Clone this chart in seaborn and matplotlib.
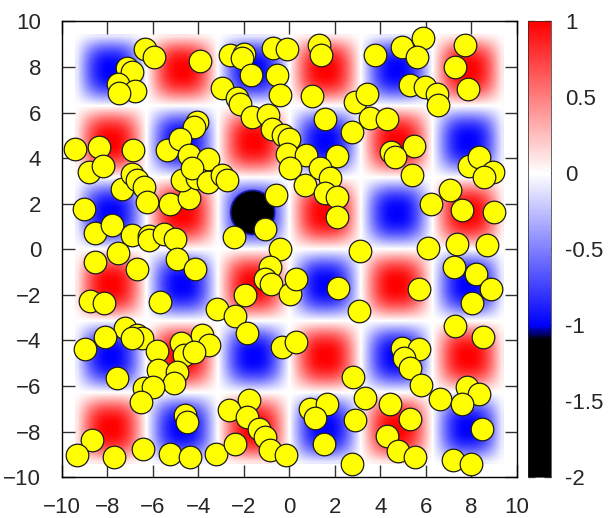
import matplotlib
matplotlib.use("Agg")
import matplotlib.pyplot as plt
import numpy as np
import seaborn as sns
from matplotlib.colors import LinearSegmentedColormap, Normalize
from matplotlib.cm import ScalarMappable
from matplotlib.patches import Circle

# sign of each coloured square, top row first (+1 red, -1 blue)
cell_signs = [[-1, 1, -1, 1, -1, 1],
              [1, -1, 1, -1, 1, -1],
              [-1, 1, -1, 1, -1, 1],
              [1, -1, 1, -1, 1, -1],
              [-1, 1, -1, 1, -1, 1],
              [1, -1, 1, -1, 1, -1]]
# outer edge of the coloured squares
cell_edge = 9.42
# intensity across one square
cell_profile = [0.10, 0.30, 0.50, 0.68, 0.82, 0.92, 0.98, 1.0,
                1.0, 0.98, 0.92, 0.82, 0.68, 0.50, 0.30, 0.10]

# black hole in the field
blob_x, blob_y, blob_r = -1.62, 1.62, 0.93

# yellow circles
circle_x = [-6.34, -5.94, -3.95, -7.14, -6.92, -7.55, -6.81, -7.51, -9.41, -8.39, -6.88, -5.38, -4.07, -4.21, -4.80, -4.43, -3.60,
            -8.83, -8.20, -7.36, -6.92, -6.70, -6.41, -6.26, -5.24, -4.43, -4.73, -4.07, -4.29, -3.58,
            -9.05, -8.53, -7.80, -6.92, -6.16, -6.16, -5.53, -5.05, -7.54, -8.53, -6.70, -4.95, -4.14, -8.75, -8.17, -5.71, -3.20,
            -2.60, -2.01, -2.09, -0.73, -0.11, 1.28, 1.40, -1.68, -0.55, -2.95, -0.40, 0.99, -2.30, -2.18, -1.65, -0.95, -0.77, -0.29, -0.04, -0.11, 0.73, 2.09, 1.57, 2.86, 2.75,
            3.74, 4.95, 5.87, 5.60, 7.70, 7.26, 7.85, 5.31, 5.97, 6.48, 6.53, 3.41, 3.55, 4.29, 4.48, 5.46, 4.65, 5.39, 7.88, 8.32, 8.95,
            -2.97, -2.75, 0.02, 0.70, 1.36, 1.80, 1.58, 2.09, 2.09, -0.58, -1.06, -2.45, -0.40, -0.84, -1.06, -0.80, 0.04, 0.30, 2.13, -1.94, -2.38, 3.11, 3.04,
            7.07, 6.23, 7.58, 8.97, 8.53, 6.09, 7.36, 8.68, 7.22, 8.20, 8.87, 8.02, 5.68, 7.26,
            -7.22, -6.70, -6.48, -6.92, -8.12, -9.00, -5.82, -4.75, -3.85, -3.55, -4.65, -4.21, -5.78, -4.95, -5.09, -7.58, -6.41, -6.01, -6.51, -4.61, -4.51, -8.68, -9.34, -7.73, -6.44, -5.24, -4.39, -3.25,
            -1.87, -0.33, 0.29, 2.78, 3.30, -1.80, -2.67, -1.87, -1.36, -1.06, -0.84, -0.14, -2.38, 0.92, 1.65, 1.14, 1.50, 2.89, 2.75,
            8.49, 4.95, 5.68, 5.02, 5.31, 5.79, 6.63, 7.80, 8.34, 7.58, 4.43, 5.31, 4.29, 4.77, 5.50, 8.46, 7.17, 7.99]
circle_y = [8.78, 8.44, 8.27, 7.96, 7.78, 7.27, 6.96, 6.86, 4.41, 4.49, 4.37, 4.34, 5.58, 5.36, 4.85, 4.12, 3.97,
            3.40, 3.65, 2.64, 3.30, 3.03, 2.74, 2.08, 2.01, 2.23, 3.03, 3.11, 3.55, 2.96,
            1.79, 0.73, 1.08, 0.61, 0.59, 0.40, 0.69, 0.44, -0.15, -0.56, -0.85, -0.41, -0.85, -2.29, -2.34, -2.32, -2.61,
            8.52, 8.59, 8.40, 8.85, 8.78, 8.95, 8.54, 7.64, 7.67, 7.08, 6.76, 6.71, 6.62, 6.40, 5.80, 5.88, 5.29, 5.00, 4.85, 4.19, 4.12, 4.08, 5.73, 6.46, 5.15,
            8.54, 8.88, 9.28, 8.44, 8.95, 8.00, 7.05, 7.23, 7.12, 6.83, 6.32, 6.80, 5.76, 5.70, 4.27, 4.52, 4.05, 3.25, 3.65, 4.05, 3.40,
            3.25, 3.03, 3.55, 2.81, 3.55, 3.11, 2.45, 2.30, 1.42, 2.37, 0.91, 0.54, 0.03, -0.78, -1.29, -1.51, -1.95, -1.29, -1.70, -2.02, -2.95, -0.09, -2.72,
            2.59, 2.01, 1.74, 1.64, 3.18, 0.06, 0.25, 0.17, -0.78, -1.07, -1.76, -2.34, -1.73, -3.38,
            -3.47, -3.77, -3.91, -3.91, -3.84, -4.38, -4.47, -4.13, -3.77, -4.21, -4.64, -4.50, -5.30, -5.38, -5.89, -5.67, -6.11, -6.04, -6.70, -7.28, -7.57, -8.38, -9.04, -9.11, -8.75, -8.97, -9.11, -8.97,
            -3.69, -4.28, -4.09, -5.60, -6.55, -6.62, -7.06, -7.36, -7.87, -8.23, -8.82, -9.01, -8.53, -6.99, -6.81, -7.40, -8.53, -7.50, -9.41,
            -3.84, -4.35, -4.38, -4.79, -5.23, -5.96, -6.59, -6.04, -6.37, -6.77, -6.81, -7.46, -8.19, -8.86, -9.11, -7.87, -9.26, -9.41]

axis_ticks = [-10, -8, -6, -4, -2, 0, 2, 4, 6, 8, 10]
cbar_ticks = [-2, -1.5, -1, -0.5, 0, 0.5, 1]
cbar_labels = ["-2", "-1.5", "-1", "-0.5", "0", "0.5", "1"]

sns.set_style("ticks")
plt.rcParams["font.family"] = ["Liberation Sans", "DejaVu Sans"]

# black below -1.1, blue at -1, white at 0, red at 1
cmap = LinearSegmentedColormap.from_list(
    "bwr_black", [(0.0, "black"), (0.3, "black"), (1 / 3, "blue"), (2 / 3, "white"), (1.0, "red")])
norm = Normalize(vmin=-2, vmax=1)

fig = plt.figure(figsize=(6.16, 5.18), dpi=100)
ax = fig.add_axes([0.1006, 0.079, 0.7386, 0.8795])

field = np.kron(np.array(cell_signs), np.outer(cell_profile, cell_profile))
ax.imshow(field, extent=[-cell_edge, cell_edge, -cell_edge, cell_edge], cmap=cmap, norm=norm,
          interpolation="bilinear", aspect="auto", zorder=0)

# the deep dip
ax.add_patch(Circle((blob_x, blob_y), blob_r * 1.08, color="#00008b", alpha=0.7, zorder=1, lw=0))
ax.add_patch(Circle((blob_x, blob_y), blob_r, color="black", zorder=1, lw=0))

sns.scatterplot(x=circle_x, y=circle_y, ax=ax, s=265, color="#ffff00", edgecolor="#1a1a1a",
                linewidth=0.9, zorder=3, legend=False)

ax.set_xlim(-10, 10)
ax.set_ylim(-10, 10)
ax.set_xticks(axis_ticks)
ax.set_yticks(axis_ticks)
ax.set_xlabel("")
ax.set_ylabel("")
ax.tick_params(direction="in", length=9, width=1, top=True, right=True, labelsize=16, color="#333333")
ax.tick_params(axis="y", pad=15)
ax.tick_params(axis="x", pad=14)
for sp in ax.spines.values():
    sp.set_visible(True)
    sp.set_linewidth(1)
    sp.set_color("black")

# colour box
cax = fig.add_axes([0.857, 0.079, 0.0375, 0.8795])
cb = fig.colorbar(ScalarMappable(norm=norm, cmap=cmap), cax=cax)
cb.set_ticks(cbar_ticks)
cb.set_ticklabels(cbar_labels)
cb.outline.set_linewidth(0.5)
cax.tick_params(direction="in", length=5, width=1, left=True, right=True, labelsize=16, pad=10, color="#444444")

fig.savefig("out.png", dpi=100)
